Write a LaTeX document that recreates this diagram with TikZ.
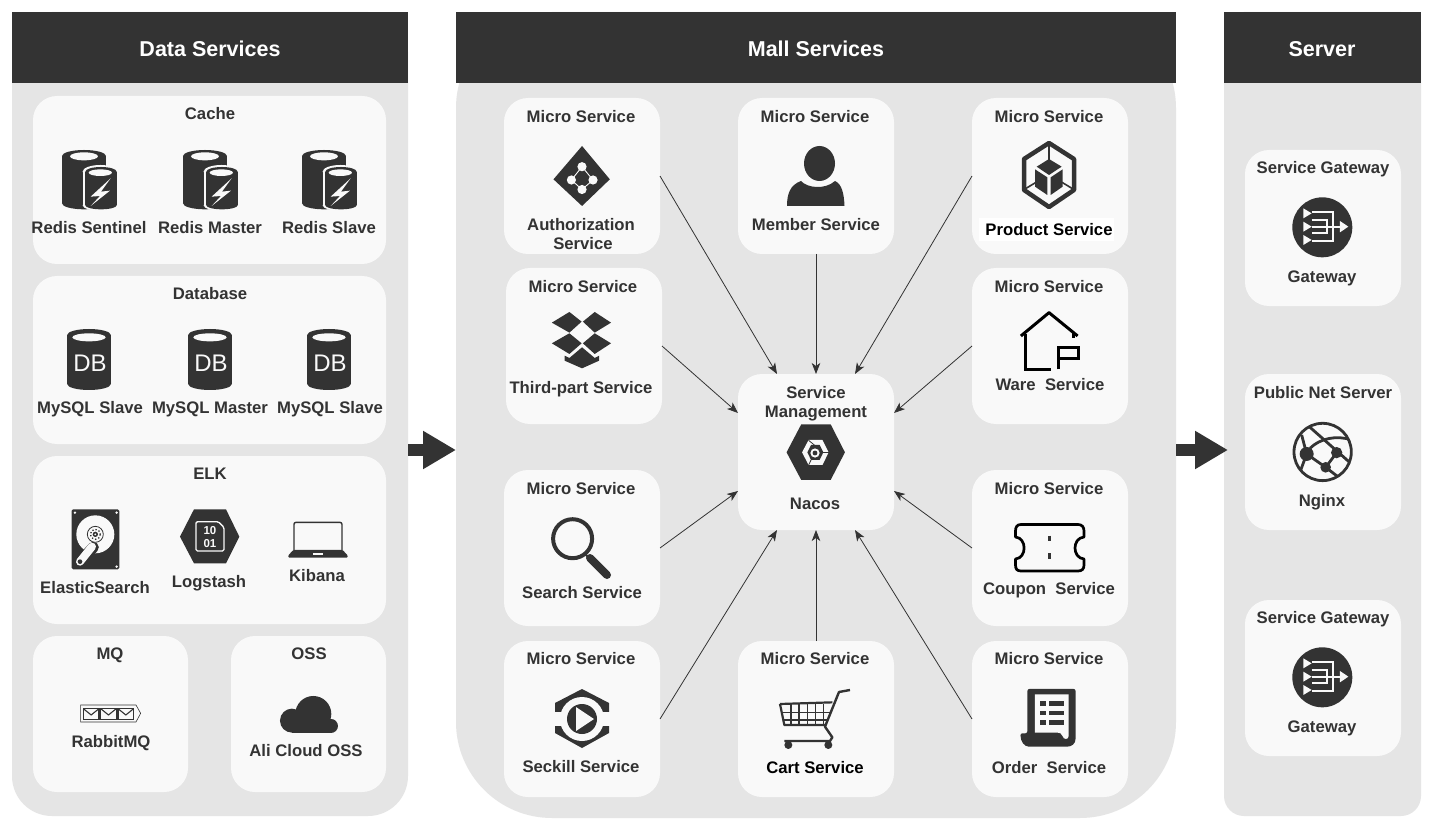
\documentclass[tikz,border=0pt]{standalone}
\usepackage{fontspec}
\setmainfont{Liberation Sans}
\usetikzlibrary{arrows.meta,calc}
\definecolor{ink}{HTML}{333333}
\definecolor{panel}{HTML}{E5E5E5}
\definecolor{card}{HTML}{F9F9F9}
\tikzset{
  zs/.style n args={4}{shift={(#1,#2)},x=#3pt,y=-#4pt},
  zt/.style={zs={20}{90}{.3333}{.3333}},
  zb/.style={zs={20}{490}{.3333}{.3333}},
  zu/.style={zs={500}{90}{.4082}{.3333}},
  zd/.style={zs={500}{370}{.4082}{.3333}},
  zr/.style={zs={1170}{140}{.3333}{.3333}},
  lbl/.style={font=\fontsize{16.7}{19}\selectfont\bfseries,text=ink,inner sep=0pt,outer sep=0pt,anchor=base,yshift=-6.4pt},
  ttl/.style={font=\fontsize{21.5}{24}\selectfont\bfseries,text=white,inner sep=0pt,outer sep=0pt,anchor=base,yshift=-8.2pt},
  cardbox/.style={fill=card,draw=none,rounded corners=24pt,inner sep=0pt,outer sep=0pt},
  panelbox/.style={fill=panel,draw=none,inner sep=0pt,outer sep=0pt},
  headbox/.style={fill=ink,draw=none,inner sep=0pt,outer sep=0pt},
  conn/.style={draw=ink,line width=.8pt,-{Stealth[length=11pt,width=8.5pt,inset=3pt]}},
  bigarrow/.style={draw=ink,line width=12.5pt,-{Triangle[length=33pt,width=36pt]}},
}
\newcommand\bx[6]{\node[#2,minimum width={(#5-#3)*1pt},minimum height={(#6-#4)*1pt}] (#1) at ({(#3+#5)/2},{(#4+#6)/2}) {};}
\newcommand\lb[4]{\node[lbl] (#1) at (#2,#3) {#4};}
\newcommand\redisicon[1]{%
\begin{scope}[xshift=#1pt]\begin{scope}[zt]
 \fill[ink] (126,198) rectangle (258,340);
 \fill[ink] (192,198) ellipse [x radius=66,y radius=18];
 \fill[ink] (192,340) ellipse [x radius=66,y radius=18];
 \fill[card] (192,199) ellipse [x radius=42,y radius=12];
 \fill[card] (188,245) rectangle (294,346);
 \fill[card] (241,245) ellipse [x radius=53,y radius=20];
 \fill[card] (241,346) ellipse [x radius=53,y radius=16];
 \fill[ink] (196,245) rectangle (290,346);
 \fill[ink] (243,245) ellipse [x radius=47,y radius=14];
 \fill[ink] (243,346) ellipse [x radius=47,y radius=12];
 \fill[card] (241,248) ellipse [x radius=35,y radius=10];
 \fill[card] (272,265) -- (212,320) -- (240,318) -- (212,348) -- (270,302) -- (243,305) -- cycle;
\end{scope}\end{scope}}
\newcommand\dbicon[2]{%
\begin{scope}[xshift=#1pt]\begin{scope}[zs={55}{320}{.3333}{.3333}]
 \fill[ink] (37,45) rectangle (168,192);
 \fill[ink] (102,45) ellipse [x radius=65.5,y radius=18];
 \fill[ink] (102,192) ellipse [x radius=65.5,y radius=18];
 \fill[card] (102,52) ellipse [x radius=50,y radius=12];
 \node[font=\fontsize{24}{24}\selectfont,text=card,inner sep=0pt] (#2) at (105,130) {DB};
\end{scope}\end{scope}}
\newcommand\gateicon[2]{%
\begin{scope}[yshift=-#1pt]\begin{scope}[zr]
 \fill[ink] (457,262) circle (90);
 \fill[card] (400,205) -- (425,220) -- (400,235) -- cycle;
 \fill[card] (400,245) -- (425,260) -- (400,275) -- cycle;
 \fill[card] (400,285) -- (425,300) -- (400,315) -- cycle;
 \draw[card,line width=1.8pt] (425,217) -- (490,217) -- (490,303) -- (425,303);
 \draw[card,line width=1.8pt] (425,260) -- (512,260);
 \draw[card,line width=1.8pt] (425,240) -- (472,240) -- (472,280) -- (425,280);
 \fill[card] (510,243) -- (535,260) -- (510,277) -- cycle;
\end{scope}\end{scope}}
\begin{document}
\begin{tikzpicture}[x=1pt,y=-1pt]
\useasboundingbox (0,0) rectangle (1433,829);
\fill[white] (0,0) rectangle (1433,829);

% panels
\bx{dataB}{panelbox,rounded corners=40pt}{12}{12}{408}{816}
\bx{mallB}{panelbox,rounded corners=96pt}{456}{12}{1176}{818}
\bx{servB}{panelbox,rounded corners=20pt}{1224}{12}{1421}{816}
\bx{dataH}{headbox}{12}{12}{408}{83}
\bx{mallH}{headbox}{456}{12}{1176}{83}
\bx{servH}{headbox}{1224}{12}{1421}{83}
\node[ttl] (tData) at (210,48) {Data Services};
\node[ttl] (tMall) at (816,48) {Mall Services};
\node[ttl] (tServ) at (1322,48) {Server};

% big arrows
\coordinate (aOneS) at (408,450);
\coordinate (aOneE) at (456,450);
\coordinate (aTwoS) at (1176,450);
\coordinate (aTwoE) at (1228,450);
\draw[bigarrow] (aOneS) -- (aOneE);
\draw[bigarrow] (aTwoS) -- (aTwoE);

% data cards
\bx{cache}{cardbox}{33}{96}{386}{264}
\bx{dbase}{cardbox}{33}{276}{386}{444}
\bx{elk}{cardbox}{33}{456}{386}{624}
\bx{mq}{cardbox}{33}{636}{188}{792}
\bx{oss}{cardbox}{231}{636}{386}{792}

% mall cards
\bx{auth}{cardbox}{504}{98}{660}{254}
\bx{member}{cardbox}{738}{98}{894}{254}
\bx{product}{cardbox}{972}{98}{1128}{254}
\bx{third}{cardbox}{506}{268}{662}{424}
\bx{ware}{cardbox}{972}{268}{1128}{424}
\bx{mgr}{cardbox}{738}{374}{894}{530}
\bx{search}{cardbox}{504}{470}{660}{626}
\bx{coupon}{cardbox}{972}{470}{1128}{626}
\bx{seckill}{cardbox}{504}{641}{660}{797}
\bx{cart}{cardbox}{738}{641}{894}{797}
\bx{order}{cardbox}{972}{641}{1128}{797}

% server cards
\bx{gwa}{cardbox}{1245}{150}{1401}{306}
\bx{ngx}{cardbox}{1245}{374}{1401}{530}
\bx{gwb}{cardbox}{1245}{600}{1401}{756}

% connectors
\coordinate (mTL) at ($(mgr.north west)!.25!(mgr.north east)$);
\coordinate (mTR) at ($(mgr.north west)!.75!(mgr.north east)$);
\coordinate (mBL) at ($(mgr.south west)!.25!(mgr.south east)$);
\coordinate (mBR) at ($(mgr.south west)!.75!(mgr.south east)$);
\coordinate (mLT) at ($(mgr.north west)!.25!(mgr.south west)$);
\coordinate (mLB) at ($(mgr.north west)!.75!(mgr.south west)$);
\coordinate (mRT) at ($(mgr.north east)!.25!(mgr.south east)$);
\coordinate (mRB) at ($(mgr.north east)!.75!(mgr.south east)$);
\draw[conn] (auth.east) -- (mTL);
\draw[conn] (member.south) -- (mgr.north);
\draw[conn] (product.west) -- (mTR);
\draw[conn] (third.east) -- (mLT);
\draw[conn] (ware.west) -- (mRT);
\draw[conn] (search.east) -- (mLB);
\draw[conn] (coupon.west) -- (mRB);
\draw[conn] (seckill.east) -- (mBL);
\draw[conn] (cart.north) -- (mgr.south);
\draw[conn] (order.west) -- (mBR);

% labels: data
\lb{lCache}{210}{113}{Cache}
\lb{lRSen}{89}{227}{Redis Sentinel}
\lb{lRMas}{210}{227}{Redis Master}
\lb{lRSla}{329}{227}{Redis Slave}
\lb{lDb}{210}{293}{Database}
\lb{lMSa}{90}{407}{MySQL Slave}
\lb{lMMa}{210}{407}{MySQL Master}
\lb{lMSb}{330}{407}{MySQL Slave}
\lb{lElk}{210}{473}{ELK}
\lb{lEs}{95}{587}{ElasticSearch}
\lb{lLs}{209}{581}{Logstash}
\lb{lKb}{317}{575}{Kibana}
\lb{lMq}{110}{653}{MQ}
\lb{lRb}{111}{741}{RabbitMQ}
\lb{lOss}{309}{653}{OSS}
\lb{lAli}{306}{750}{Ali Cloud OSS}

% labels: mall
\lb{lMa}{581}{116}{Micro Service}
\lb{lMb}{815}{116}{Micro Service}
\lb{lMc}{1049}{116}{Micro Service}
\lb{lAuA}{581}{224}{Authorization}
\lb{lAuB}{583}{243}{Service}
\lb{lMem}{816}{224}{Member Service}
\fill[white] (979,218) rectangle (1114,241);
\node[lbl,text=black] (lPro) at (1049,229) {Product Service};
\lb{lMd}{583}{286}{Micro Service}
\lb{lThi}{581}{387}{Third-part Service}
\lb{lMe}{1049}{286}{Micro Service}
\lb{lWar}{1050}{384}{Ware\ \ Service}
\lb{lSmA}{816}{392}{Service}
\lb{lSmB}{816}{411}{Management}
\lb{lNac}{815}{503}{Nacos}
\lb{lMf}{581}{488}{Micro Service}
\lb{lSea}{582}{592}{Search Service}
\lb{lMg}{1049}{488}{Micro Service}
\lb{lCou}{1049}{588}{Coupon\ \ Service}
\lb{lMh}{581}{658}{Micro Service}
\lb{lSec}{581}{766}{Seckill Service}
\lb{lMi}{815}{658}{Micro Service}
\node[lbl,text=black] (lCar) at (815,767) {Cart Service};
\lb{lMj}{1049}{658}{Micro Service}
\lb{lOrd}{1049}{767}{Order\ \ Service}

% labels: server
\lb{lGa}{1323}{167}{Service Gateway}
\lb{lGb}{1322}{276}{Gateway}
\lb{lPn}{1323}{392}{Public Net Server}
\lb{lNg}{1322}{500}{Nginx}
\lb{lGc}{1323}{617}{Service Gateway}
\lb{lGd}{1322}{726}{Gateway}

% redis
\redisicon{0}\redisicon{121}\redisicon{240}
% db
\dbicon{0}{dbA}\dbicon{121}{dbB}\dbicon{240}{dbC}

% hard drive
\begin{scope}[zb]
 \fill[ink,rounded corners=1.5pt] (155,58) rectangle (298,238);
 \foreach \p in {(165,68),(290,68),(290,230)} \fill[card] \p circle (4);
 \fill[card] (226,133) circle (57);
 \draw[ink,line width=.8pt] (226,133) circle (24);
 \draw[ink,line width=1.3pt,dotted] (226,133) circle (15);
 \fill[ink] (226,133) circle (8);
 \fill[card] (226,133) circle (3);
 \draw[ink,line width=11pt,line cap=round] (220,172) -- (180,215);
 \draw[card,line width=8pt,line cap=round] (216,170) -- (180,215);
 \fill[ink] (180,215) circle (7);
\end{scope}

% logstash
\begin{scope}[zb]
 \fill[ink] (480,140) -- (522,58) -- (618,58) -- (658,140) -- (618,220) -- (522,220) -- cycle;
 \draw[card,line width=1.3pt,rounded corners=1.5pt] (528,95) -- (595,95) -- (612,112) -- (612,183) -- (528,183) -- cycle;
 \node[font=\fontsize{11.5}{11.5}\selectfont\bfseries,text=card,inner sep=0pt] (nTen) at (570,122) {10};
 \node[font=\fontsize{11.5}{11.5}\selectfont\bfseries,text=card,inner sep=0pt] (nOne) at (570,160) {01};
\end{scope}

% laptop
\begin{scope}[zb]
 \draw[ink,line width=1.4pt,rounded corners=2pt] (822,182) -- (822,97) -- (966,97) -- (966,182);
 \fill[ink,rounded corners=1pt] (820,180) -- (968,180) -- (983,196) -- (983,203) -- (805,203) -- (805,196) -- cycle;
 \fill[card] (878,190) rectangle (908,194);
\end{scope}

% rabbitmq
\begin{scope}[zb]
 \draw[ink,line width=.6pt] (182,645) -- (348,645) -- (362,670) -- (348,696) -- (182,696) -- cycle;
 \foreach \s in {190,242,294} {
  \draw[ink,line width=1.1pt] (\s,656) rectangle ({\s+47},688);
  \draw[ink,line width=1.1pt] (\s,656) -- ({\s+23.5},675) -- ({\s+47},656);
 }
\end{scope}

% cloud
\begin{scope}[zb]
 \fill[ink] (816,692) circle (36);
 \fill[ink] (880,672) circle (54);
 \fill[ink] (933,708) circle (21);
 \fill[ink] (816,700) rectangle (933,729);
\end{scope}

% auth diamond
\begin{scope}[zu]
 \fill[ink] (201,168) -- (269,268) -- (201,348) -- (131,268) -- cycle;
\end{scope}
\draw[card,line width=.9pt] (582,166.7) -- (593,180) -- (582,189.5) -- (571.4,180) -- cycle;
\foreach \p in {(582,166.7),(582,189.5),(571.4,180),(593,180)} \fill[card] \p circle (4.6);

% person
\fill[ink] (819.5,163.5) ellipse [x radius=15.5,y radius=17.5];
\fill[ink] (787,206) .. controls (787,194) and (790,185) .. (801,181) .. controls (807,188) and (825,190) .. (835,181) .. controls (842,184) and (844,194) .. (844.5,206) -- cycle;

% product
\begin{scope}[zs={1010}{135}{.3333}{.3333}]
 \draw[ink,line width=4.5pt,line join=round] (117,24) -- (192,72) -- (192,165) -- (117,216) -- (42,165) -- (42,72) -- cycle;
 \draw[ink,line width=1.6pt] (117,28) -- (117,75);
 \draw[ink,line width=1.6pt] (45,162) -- (78,142);
 \draw[ink,line width=1.6pt] (189,162) -- (156,142);
 \fill[ink] (117,72) -- (155,95) -- (117,120) -- (80,95) -- cycle;
 \fill[ink] (75,103) -- (112,127) -- (112,180) -- (75,155) -- cycle;
 \fill[ink] (122,127) -- (158,103) -- (158,155) -- (122,180) -- cycle;
\end{scope}

% dropbox
\begin{scope}[zu]
 \fill[ink] (170,666) -- (200,695) -- (170,728) -- (127,698) -- cycle;
 \fill[ink] (232,666) -- (272,698) -- (232,728) -- (203,695) -- cycle;
 \fill[ink] (127,760) -- (170,730) -- (200,760) -- (170,792) -- cycle;
 \fill[ink] (272,760) -- (232,730) -- (203,760) -- (232,792) -- cycle;
 \fill[ink] (158,797) -- (170,804) -- (201,772) -- (232,804) -- (243,797) -- (243,812) -- (201,835) -- (158,812) -- cycle;
\end{scope}

% ware
\begin{scope}[zu]
 \draw[black,line width=3pt,line join=round] (1276,738) -- (1345,668) -- (1415,738);
 \draw[black,line width=3pt] (1287,733) -- (1287,838) -- (1350,838);
 \draw[black,line width=3pt] (1405,730) -- (1405,743);
 \draw[black,line width=3pt] (1367,838) -- (1367,772) -- (1417,772) -- (1417,806) -- (1367,806);
\end{scope}

% nacos
\begin{scope}[zd]
 \fill[ink] (702,247) -- (738,163) -- (810,163) -- (845,247) -- (810,330) -- (738,330) -- cycle;
 \fill[card] (740,247) -- (756,210) -- (790,210) -- (805,247) -- (790,285) -- (756,285) -- cycle;
 \fill[ink] (753,247) -- (762,225) -- (783,225) -- (792,247) -- (783,270) -- (762,270) -- cycle;
 \draw[ink,line width=.8pt] (756,211) -- (770,225);
 \draw[ink,line width=.8pt] (790,247) -- (805,247);
 \draw[ink,line width=.8pt] (762,270) -- (756,285);
\end{scope}
\fill[card] (815,453) circle (4.6);
\fill[ink] (815,453) circle (2.4);

% search
\draw[ink,line width=4pt] (572.6,538.7) circle (19.5);
\draw[ink,line width=2pt] (584,553) -- (590,559);
\draw[ink,line width=8pt,line cap=round] (590,558) -- (607,575);

% coupon
\draw[black,line width=2.7pt,line join=round] (1021,524.5) -- (1078,524.5) .. controls (1082,524.5) and (1084,527) .. (1084,531) -- (1084,537) .. controls (1072,538) and (1072,558) .. (1084,559) -- (1084,565) .. controls (1084,569) and (1082,571) .. (1078,571) -- (1021,571) .. controls (1017,571) and (1015.5,569) .. (1015.5,565) -- (1015.5,559) .. controls (1027,558) and (1027,538) .. (1015.5,537) -- (1015.5,531) .. controls (1015.5,527) and (1017,524.5) .. (1021,524.5) -- cycle;
\draw[ink,line width=2.4pt] (1049.5,535.5) -- (1049.5,541);
\draw[ink,line width=2.4pt] (1049.5,553) -- (1049.5,559);

% seckill
\fill[ink] (582,689) -- (609,703) -- (609,733) -- (582,748) -- (555,733) -- (555,703) -- cycle;
\fill[card] (582,719) circle (22);
\fill[card] (553,712) rectangle (561,726);
\fill[card] (603,712) rectangle (611,726);
\fill[ink] (582,719) circle (15);
\fill[card] (576,707) -- (594,719) -- (576,731) -- cycle;

% cart
\begin{scope}[zs={775}{680}{.3333}{.3333}]
 \draw[ink,line width=1.1pt] (48,72) -- (48,135) (72,72) -- (72,135) (97,72) -- (97,135) (122,72) -- (122,135) (145,72) -- (145,135);
 \draw[ink,line width=1.1pt] (22,98) -- (165,98) (25,120) -- (158,120);
 \draw[ink,line width=2.2pt,line join=round] (15,72) -- (172,67) (15,72) -- (28,135) -- (150,135);
 \draw[ink,line width=2.4pt,line join=round] (225,30) -- (192,36) -- (150,140) -- (172,172) -- (165,183) -- (28,183);
 \fill[ink] (40,195) circle (12);
 \fill[ink] (160,195) circle (12);
\end{scope}

% order
\begin{scope}[zd]
 \fill[ink,rounded corners=2pt] (1292,957) -- (1410,957) -- (1410,1100) .. controls (1410,1122) and (1400,1130) .. (1385,1130) -- (1300,1130) .. controls (1285,1130) and (1275,1115) .. (1275,1090) -- (1292,1090) -- cycle;
 \fill[card] (1310,973) -- (1393,973) -- (1393,1098) .. controls (1393,1110) and (1380,1110) .. (1378,1098) .. controls (1376,1090) and (1372,1088) .. (1362,1088) -- (1310,1088) -- cycle;
 \foreach \yy in {1000,1029,1058} {
  \fill[ink] (1322,{\yy-7}) rectangle (1338,{\yy+7});
  \fill[ink] (1346,{\yy-7}) rectangle (1382,{\yy+7});
 }
\end{scope}

% gateways
\gateicon{0}{gA}
\gateicon{450}{gB}

% nginx
\begin{scope}[zr]
 \begin{scope}
  \clip (458,936) circle (88);
  \draw[ink,line width=2.8pt] (420,862) -- (540,968);
  \draw[ink,line width=2.8pt] (395,885) -- (410,942) -- (385,1010);
  \draw[ink,line width=2.8pt] (410,942) -- (467,982) -- (510,1015);
  \draw[ink,line width=2.8pt] (420,925) .. controls (450,895) and (500,885) .. (545,900);
  \draw[ink,line width=2.8pt] (500,938) -- (467,982);
 \end{scope}
 \draw[ink,line width=2.8pt] (458,936) circle (86);
 \fill[ink] (410,942) circle (21);
 \fill[ink] (500,938) circle (17);
 \fill[ink] (467,982) circle (16);
\end{scope}
\end{tikzpicture}
\end{document}
